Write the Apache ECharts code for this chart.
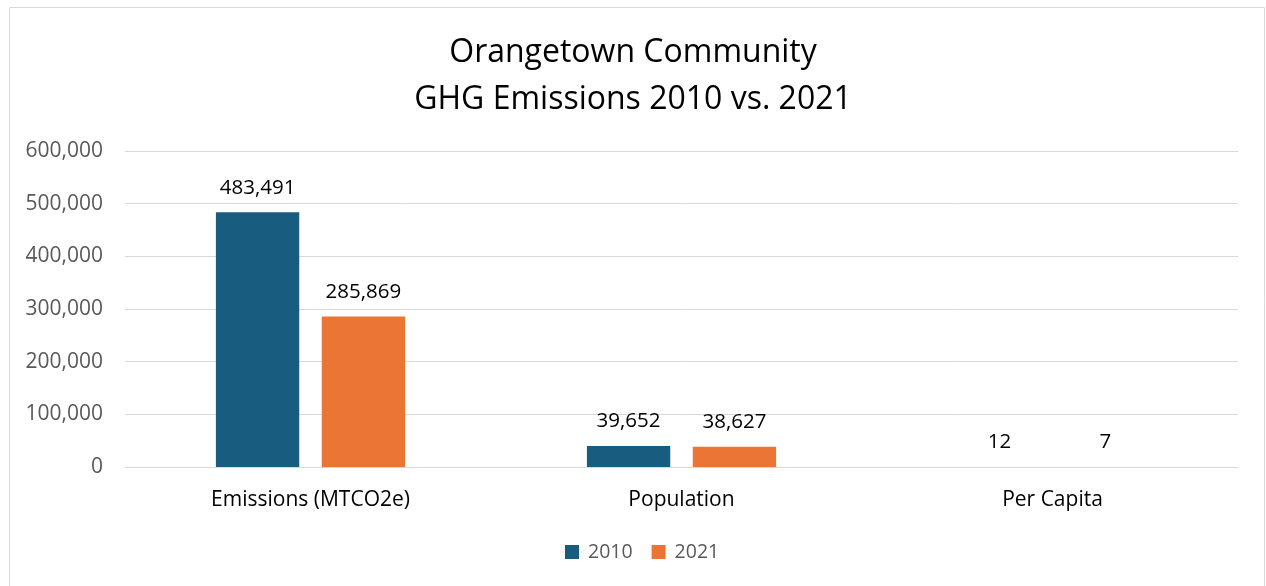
<!DOCTYPE html>
<html>
<head>
<meta charset="utf-8">
<script src="https://cdn.jsdelivr.net/npm/echarts@6/dist/echarts.min.js"></script>
<style>
html,body{margin:0;padding:0;background:#fff;}
#c{position:absolute;left:0;top:0;width:1266px;height:586px;}
</style>
</head>
<body>
<div id="c"></div>
<script>
const categories = ['Emissions (MTCO2e)', 'Population', 'Per Capita'];
const seriesNames = ['2010', '2021'];
const values2010 = [483491, 39652, 12];
const values2021 = [285869, 38627, 7];
const yTicks = [0, 100000, 200000, 300000, 400000, 500000, 600000];

const font = '"Open Sans", "Liberation Sans", sans-serif';
const colors = ['#185d80', '#ea7535'];
const fmt = v => v.toLocaleString('en-US');

const chart = echarts.init(document.getElementById('c'), null, {renderer: 'canvas'});
chart.setOption({
  animation: false,
  backgroundColor: '#fff',
  color: colors,
  graphic: [{
    type: 'rect', left: 7, top: 5, silent: true,
    shape: {width: 1255, height: 580},
    style: {fill: 'none', stroke: '#d9d9d9', lineWidth: 1}
  }],
  title: {
    text: 'Orangetown Community\nGHG Emissions 2010 vs. 2021',
    left: 'center', top: 24,
    textStyle: {fontFamily: font, fontSize: 32, fontWeight: 'normal', color: '#000', lineHeight: 47}
  },
  legend: {
    data: seriesNames, bottom: 19, left: 560,
    itemWidth: 14, itemHeight: 14, itemGap: 19, icon: 'rect',
    textStyle: {fontFamily: font, fontSize: 19.5, color: '#595959', padding: [0, 0, 0, 4]}
  },
  grid: {left: 125, right: 28, top: 151, bottom: 119, containLabel: false},
  xAxis: {
    type: 'category', data: categories,
    axisLine: {show: true, lineStyle: {color: '#d9d9d9'}},
    axisTick: {show: false},
    axisLabel: {fontFamily: font, fontSize: 21, color: '#000', margin: 23}
  },
  yAxis: {
    type: 'value', min: 0, max: 600000, interval: 100000,
    axisLine: {show: false}, axisTick: {show: false},
    splitLine: {lineStyle: {color: '#d9d9d9', width: 1}},
    axisLabel: {fontFamily: font, fontSize: 21, color: '#595959', margin: 22, formatter: v => fmt(v)}
  },
  series: [
    {name: seriesNames[0], type: 'bar', data: values2010, barCategoryGap: '49%', barGap: '27%',
     label: {show: true, position: 'top', distance: 14, fontFamily: font, fontSize: 20.5, color: '#000', formatter: p => fmt(p.value)}},
    {name: seriesNames[1], type: 'bar', data: values2021, barCategoryGap: '49%', barGap: '27%',
     label: {show: true, position: 'top', distance: 14, fontFamily: font, fontSize: 20.5, color: '#000', formatter: p => fmt(p.value)}}
  ]
});
</script>
</body>
</html>
